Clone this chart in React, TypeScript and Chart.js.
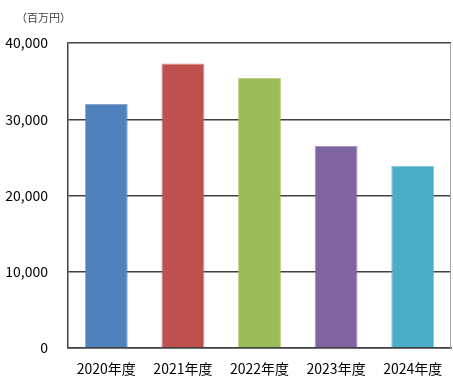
import React, { useEffect, useRef } from "react";
import { Chart, registerables } from "chart.js";

Chart.register(...registerables);

const categories = ["2020年度", "2021年度", "2022年度", "2023年度", "2024年度"];
const values = [32000, 37300, 35400, 26500, 23900];
const barColors = ["#4F81BD", "#C0504D", "#9BBB59", "#8064A2", "#4BACC6"];
const unitLabel = "（百万円）";

const FONT = "'Noto Sans CJK JP', 'Noto Sans', sans-serif";

export default function App() {
  const ref = useRef<HTMLCanvasElement>(null);
  useEffect(() => {
    document.body.style.margin = "0";
    const framePlugin = {
      id: "frame",
      afterDraw(chart: any) {
        const { ctx, chartArea } = chart;
        ctx.save();
        ctx.strokeStyle = "#A6A6A6";
        ctx.lineWidth = 1;
        ctx.beginPath();
        ctx.moveTo(chartArea.right - 0.5, chartArea.top);
        ctx.lineTo(chartArea.right - 0.5, chartArea.bottom);
        ctx.stroke();
        ctx.fillStyle = "#404040";
        ctx.font = `11px ${FONT}`;
        ctx.textBaseline = "middle";
        ctx.textAlign = "left";
        ctx.fillText(unitLabel, 16, 18);
        ctx.restore();
      },
    };
    const chart = new Chart(ref.current!, {
      type: "bar",
      data: {
        labels: categories,
        datasets: [
          {
            data: values,
            backgroundColor: barColors,
            borderColor: barColors.map((c) => c + "B0"),
            borderWidth: 1,
            barPercentage: 0.56,
            categoryPercentage: 1,
          },
        ],
      },
      options: {
        animation: false,
        responsive: false,
        layout: { padding: { top: 43, right: 2, left: 0, bottom: 0 } },
        plugins: { legend: { display: false }, tooltip: { enabled: false } },
        scales: {
          x: {
            grid: { display: false },
            border: { color: "#404040", width: 1.5 },
            ticks: { color: "#000", font: { family: FONT, size: 14 }, padding: 4 },
            afterFit: (s: any) => {
              s.height = 32;
            },
          },
          y: {
            min: 0,
            max: 40000,
            grid: { color: "#404040", lineWidth: 1.5, drawTicks: false },
            border: { color: "#404040", width: 1.5 },
            ticks: {
              stepSize: 10000,
              color: "#000",
              padding: 20,
              font: { family: FONT, size: 14 },
              callback: (v: any) => Number(v).toLocaleString("en-US"),
            },
            afterFit: (s: any) => {
              s.width = 68;
            },
          },
        },
      },
      plugins: [framePlugin],
    });
    return () => chart.destroy();
  }, []);
  return <canvas ref={ref} width={453} height={380} style={{ display: "block" }} />;
}
